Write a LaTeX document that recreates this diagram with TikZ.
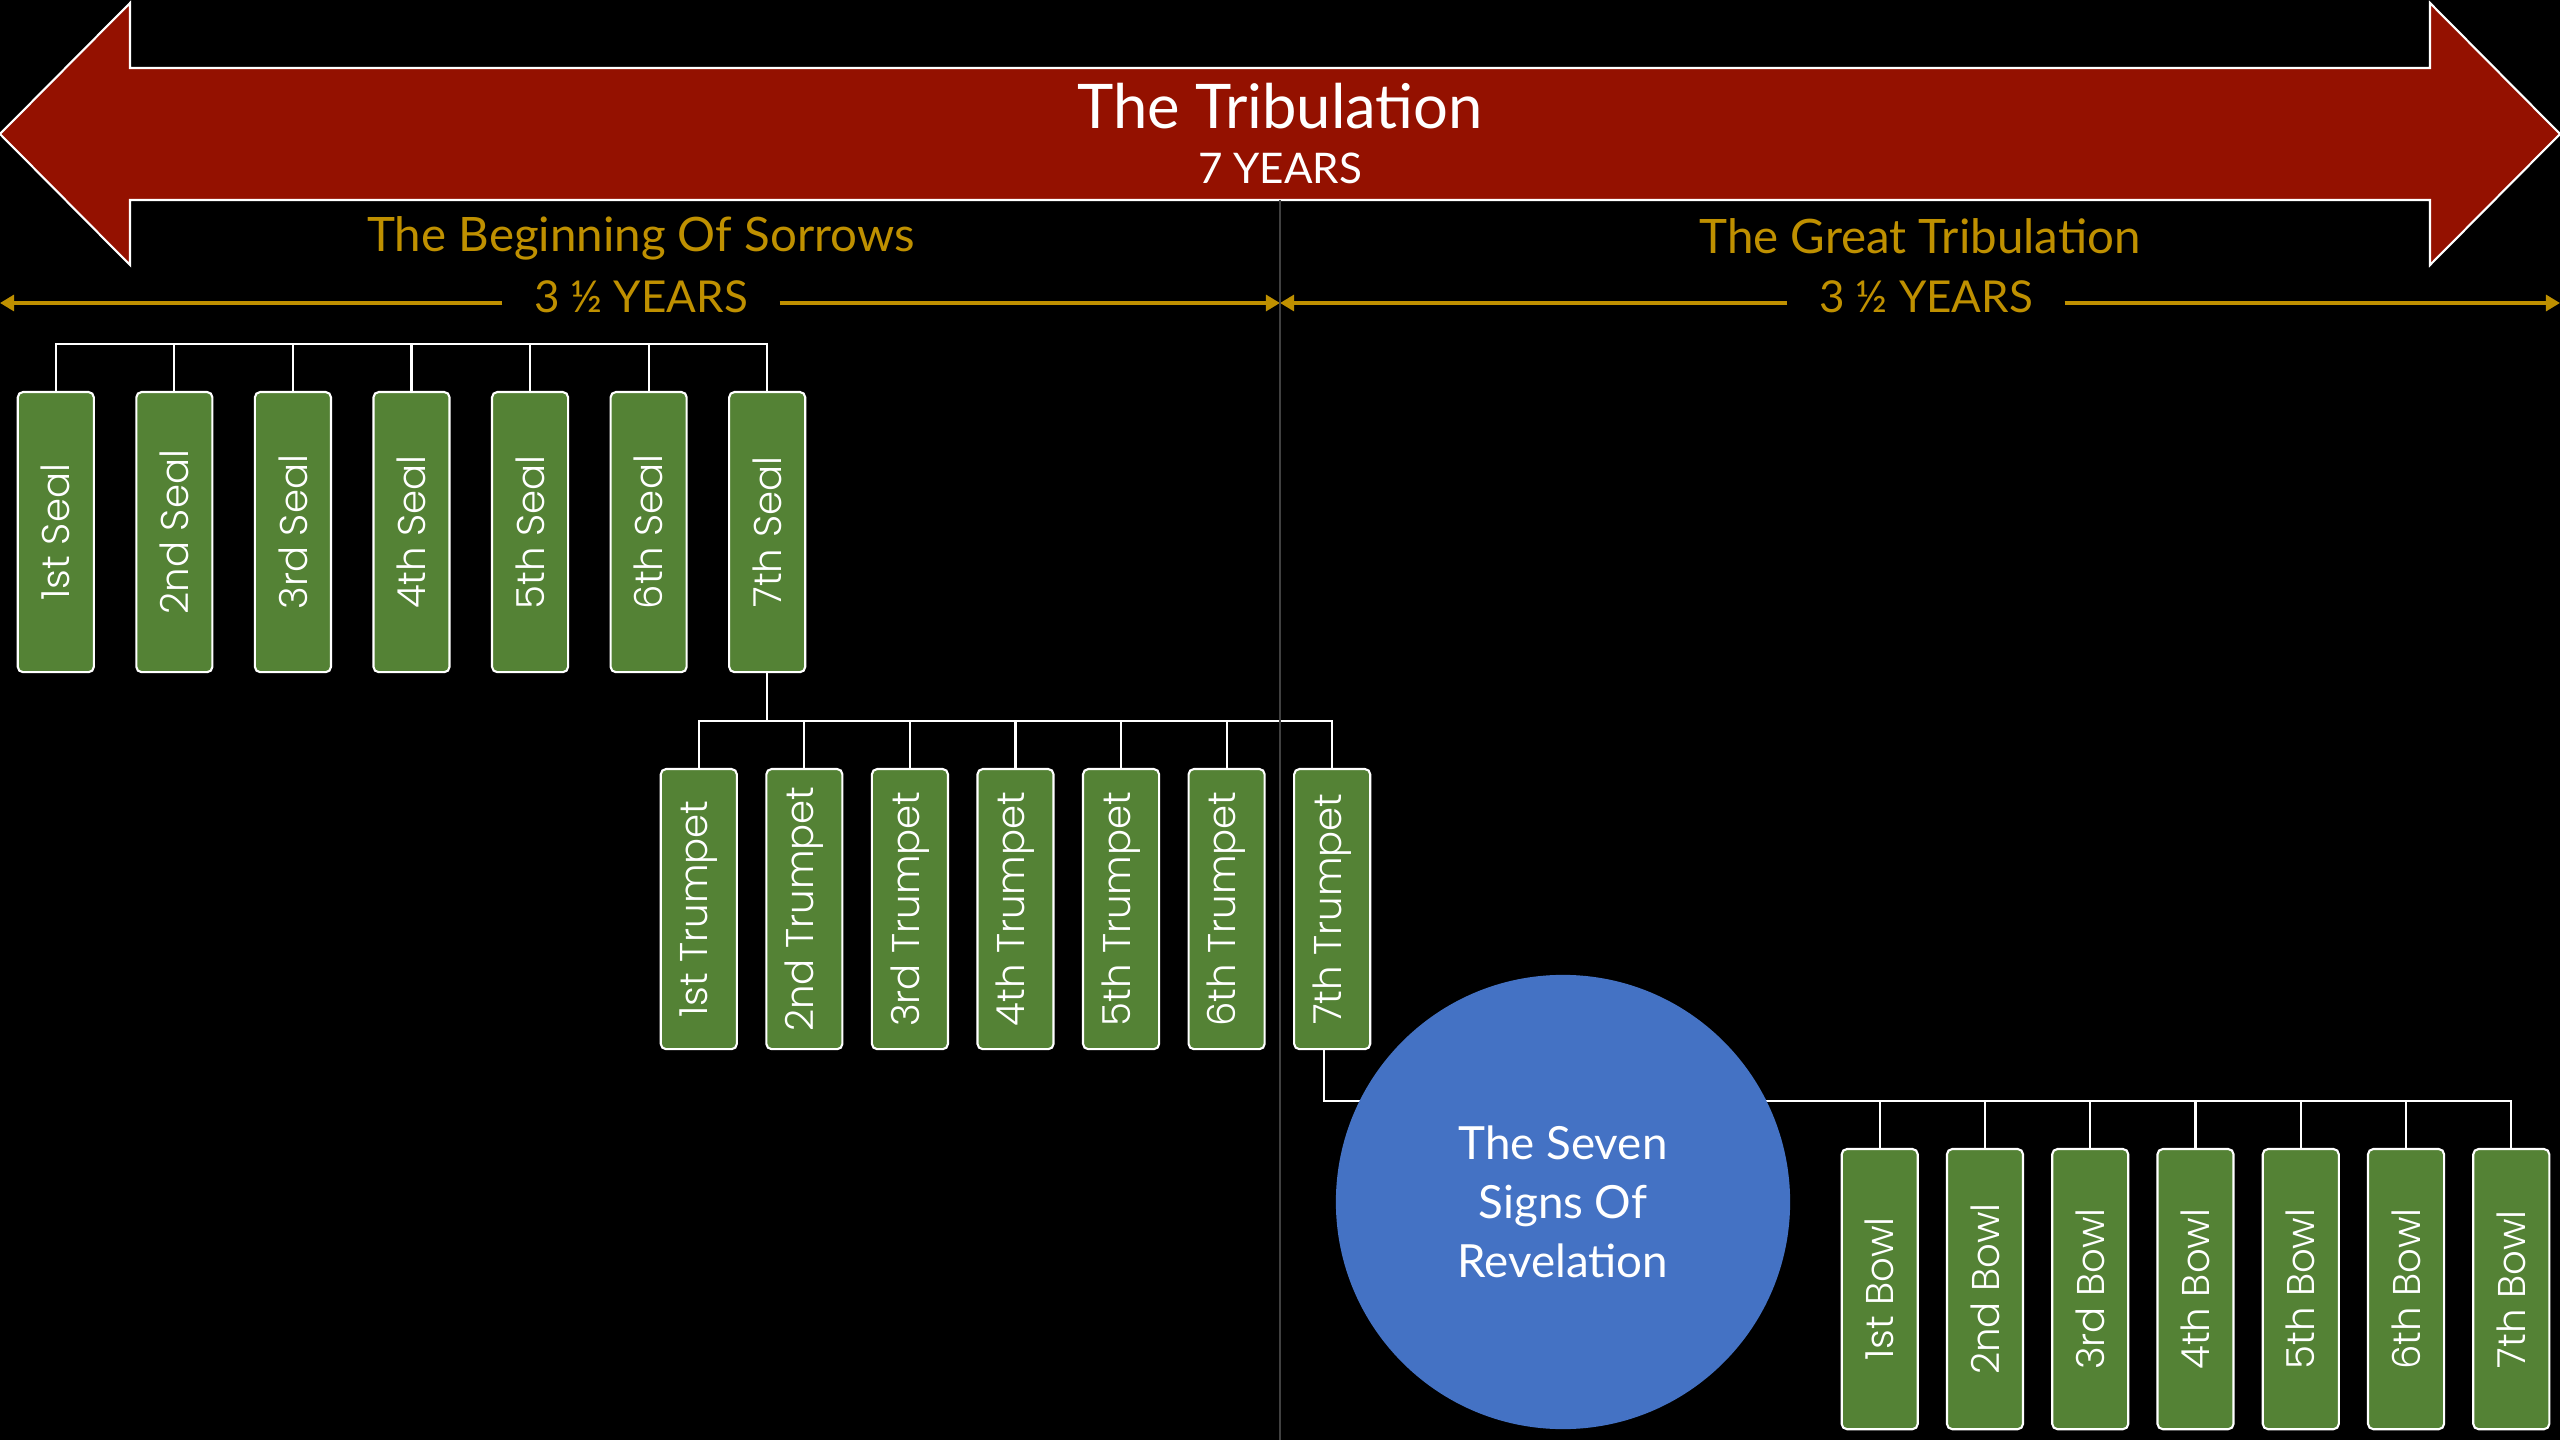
\documentclass[tikz,border=0pt]{standalone}
\usepackage{fontspec}
\setmainfont{Lato}
\newfontfamily\boxfont{Poppins Light}
\usetikzlibrary{arrows.meta}

\definecolor{tribred}{HTML}{941100}
\definecolor{sealgreen}{HTML}{548235}
\definecolor{signblue}{HTML}{4472C4}
\definecolor{yeargold}{HTML}{BF9000}
\definecolor{midgrey}{HTML}{404040}

\tikzset{
    judgement/.style={draw=white, line width=0.6pt, fill=sealgreen, rounded corners=1.5pt,
        minimum width=0.76cm, minimum height=2.8cm, inner sep=0pt, text=white,
        font=\boxfont\fontsize{11pt}{13pt}\selectfont},
    bar/.style={draw=white, line width=0.6pt},
    span/.style={draw=yeargold, line width=1.4pt, -{Triangle[length=4pt,width=4.5pt]}},
    gold/.style={text=yeargold, anchor=base, font=\fontsize{13.5pt}{16pt}\selectfont},
    half/.style={gold, inner xsep=8.8pt, font=\fontsize{12.5pt}{15pt}\selectfont},
}

\begin{document}
\begin{tikzpicture}[x=0.01cm, y=-0.01cm, level distance=1.88cm,
        edge from parent/.style={draw=white, line width=0.6pt},
        edge from parent path={(\tikzparentnode) -| (\tikzchildnode.north)}]
    \useasboundingbox (0,0) rectangle (2560,1440);
    \fill[black] (0,0) rectangle (2560,1440);

    % the big double arrow
    \draw[white, line width=0.6pt, fill=tribred] (0,134) -- (130,3) -- (130,68) -- (2430,68)
        -- (2430,3) -- (2560,134) -- (2430,265) -- (2430,200) -- (130,200) -- (130,265) -- cycle;
    \node[text=white, anchor=base, font=\fontsize{17.5pt}{20pt}\selectfont] (title) at (1280,129) {The Tribulation};
    \node[text=white, anchor=base, font=\fontsize{12pt}{14pt}\selectfont] (seven) at (1280,184) {7 YEARS};

    \node[gold] (sorrows) at (641,252) {The Beginning Of Sorrows};
    \node[gold] (great) at (1920,254) {The Great Tribulation};
    \node[half] (halfleft) at (641,313) {3 ½ YEARS};
    \node[half] (halfright) at (1926,313) {3 ½ YEARS};

    \coordinate (startleft) at (0,303);
    \coordinate (middle) at (1280,303);
    \coordinate (endright) at (2560,303);
    \draw[span] (halfleft.west |- startleft) -- (startleft);
    \draw[span] (halfleft.east |- startleft) -- (middle);
    \draw[span] (halfright.west |- startleft) -- (middle);
    \draw[span] (halfright.east |- startleft) -- (endright);

    % seals
    \node[coordinate] (sealbar) at (411.5,344) {} [sibling distance=1.185cm]
        child {
            node[judgement] (seal1) {\rotatebox{90}{1st Seal}}
        }
        child {
            node[judgement] (seal2) {\rotatebox{90}{2nd Seal}}
        }
        child {
            node[judgement] (seal3) {\rotatebox{90}{3rd Seal}}
        }
        child {
            node[judgement] (seal4) {\rotatebox{90}{4th Seal}}
        }
        child {
            node[judgement] (seal5) {\rotatebox{90}{5th Seal}}
        }
        child {
            node[judgement] (seal6) {\rotatebox{90}{6th Seal}}
        }
        child {
            node[judgement] (seal7) {\rotatebox{90}{7th Seal}}
        };

    % trumpets
    \node[coordinate] (trumpetbar) at (1015.5,721) {} [sibling distance=1.055cm]
        child {
            node[judgement] (trump1) {\rotatebox{90}{1st Trumpet}}
        }
        child {
            node[judgement] (trump2) {\rotatebox{90}{2nd Trumpet}}
        }
        child {
            node[judgement] (trump3) {\rotatebox{90}{3rd Trumpet}}
        }
        child {
            node[judgement] (trump4) {\rotatebox{90}{4th Trumpet}}
        }
        child {
            node[judgement] (trump5) {\rotatebox{90}{5th Trumpet}}
        }
        child {
            node[judgement] (trump6) {\rotatebox{90}{6th Trumpet}}
        }
        child {
            node[judgement] (trump7) {\rotatebox{90}{7th Trumpet}}
        };
    \draw[bar] (seal7.south) -- (seal7.south |- trumpetbar);

    % bowls
    \node[coordinate] (bowlbar) at (2195.5,1101) {} [sibling distance=1.052cm]
        child {
            node[judgement] (bowl1) {\rotatebox{90}{1st Bowl}}
        }
        child {
            node[judgement] (bowl2) {\rotatebox{90}{2nd Bowl}}
        }
        child {
            node[judgement] (bowl3) {\rotatebox{90}{3rd Bowl}}
        }
        child {
            node[judgement] (bowl4) {\rotatebox{90}{4th Bowl}}
        }
        child {
            node[judgement] (bowl5) {\rotatebox{90}{5th Bowl}}
        }
        child {
            node[judgement] (bowl6) {\rotatebox{90}{6th Bowl}}
        }
        child {
            node[judgement] (bowl7) {\rotatebox{90}{7th Bowl}}
        };
    \draw[bar] ([xshift=-0.08cm]trump7.south) |- (bowlbar);

    % halfway divider
    \draw[midgrey, line width=0.8pt] (1280,200) -- (1280,1440);

    \node[circle, fill=signblue, minimum size=4.54cm, inner sep=0pt, text=white, align=center,
        font=\fontsize{13pt}{16.8pt}\selectfont] (signs) at (1563,1202) {The Seven\\Signs Of\\Revelation};
\end{tikzpicture}
\end{document}
